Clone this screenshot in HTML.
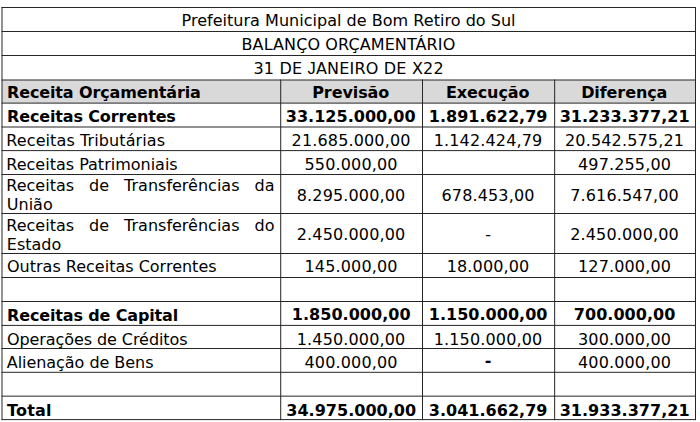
<!DOCTYPE html>
<html lang="pt-BR">
<head>
<meta charset="utf-8">
<title>Balanço Orçamentário</title>
<style>
html,body{margin:0;padding:0;background:#fff;}
body{width:700px;height:422px;position:relative;overflow:hidden;
 font-family:"DejaVu Sans","Liberation Sans",sans-serif;font-size:16px;color:#000;}
svg.grid{position:absolute;left:0;top:0;}
.c{position:absolute;white-space:nowrap;line-height:19px;height:19px;}
.ctr{text-align:center;}
.b{font-weight:bold;}
.J{font-family:"Liberation Sans",sans-serif;font-size:16.4px;}
</style>
</head>
<body>

<svg class="grid" width="700" height="422" viewBox="0 0 700 422">
<rect x="2.00" y="80.00" width="693.50" height="23.10" fill="#d9d9d9"/>
<g fill="#262626">
<rect x="1.50" y="7.00" width="694.50" height="1"/>
<rect x="1.50" y="31.00" width="694.50" height="1"/>
<rect x="1.50" y="55.00" width="694.50" height="1"/>
<rect x="1.50" y="79.50" width="694.50" height="1"/>
<rect x="1.50" y="102.60" width="694.50" height="1"/>
<rect x="1.50" y="126.50" width="694.50" height="1"/>
<rect x="1.50" y="150.10" width="694.50" height="1"/>
<rect x="1.50" y="174.00" width="694.50" height="1"/>
<rect x="1.50" y="213.00" width="694.50" height="1"/>
<rect x="1.50" y="253.00" width="694.50" height="1"/>
<rect x="1.50" y="277.00" width="694.50" height="1"/>
<rect x="1.50" y="301.00" width="694.50" height="1"/>
<rect x="1.50" y="324.90" width="694.50" height="1"/>
<rect x="1.50" y="348.00" width="694.50" height="1"/>
<rect x="1.50" y="371.80" width="694.50" height="1"/>
<rect x="1.50" y="395.65" width="694.50" height="1"/>
<rect x="1.50" y="419.10" width="694.50" height="1"/>
<rect x="1.50" y="7.00" width="1" height="413.10"/>
<rect x="280.20" y="79.50" width="1" height="340.60"/>
<rect x="422.00" y="79.50" width="1" height="340.60"/>
<rect x="554.15" y="79.50" width="1" height="340.60"/>
<rect x="695.00" y="7.00" width="1" height="413.10"/>
</g>
</svg>
<div class="c ctr" style="left:1.8px;top:11px;width:693.5px;letter-spacing:0.030px">Prefeitura Municipal de Bom Retiro do Sul</div>
<div class="c ctr" style="left:1.7px;top:35px;width:693.5px;letter-spacing:0.100px">BALANÇO ORÇAMENTÁRIO</div>
<div class="c ctr" style="left:1.9px;top:59px;width:693.5px;letter-spacing:0.190px">31 DE <span class="J">J</span>ANEIRO DE X22</div>
<div class="c b" style="left:7.0px;top:83px;letter-spacing:-0.130px">Receita Orçamentária</div>
<div class="c b ctr" style="left:279.8px;top:83px;width:141.8px;letter-spacing:-0.090px">Previsão</div>
<div class="c b ctr" style="left:421.6px;top:83px;width:132.1px;letter-spacing:-0.090px">Execução</div>
<div class="c b ctr" style="left:553.8px;top:83px;width:140.9px;letter-spacing:-0.090px">Diferença</div>
<div class="c b" style="left:7.1px;top:107px;letter-spacing:-0.150px">Receitas Correntes</div>
<div class="c b ctr" style="left:279.8px;top:107px;width:141.8px;letter-spacing:0.030px">33.125.000,00</div>
<div class="c b ctr" style="left:422.1px;top:107px;width:132.1px;letter-spacing:0.030px">1.891.622,79</div>
<div class="c b ctr" style="left:554.2px;top:107px;width:140.9px;letter-spacing:0.030px">31.233.377,21</div>
<div class="c" style="left:6.3px;top:131px;letter-spacing:0.100px">Receitas Tributárias</div>
<div class="c ctr" style="left:280.2px;top:131px;width:141.8px;letter-spacing:0.150px">21.685.000,00</div>
<div class="c ctr" style="left:422.0px;top:131px;width:132.1px;letter-spacing:0.150px">1.142.424,79</div>
<div class="c ctr" style="left:554.1px;top:131px;width:140.9px;letter-spacing:0.150px">20.542.575,21</div>
<div class="c" style="left:6.3px;top:155px">Receitas Patrimoniais</div>
<div class="c ctr" style="left:280.2px;top:155px;width:141.8px;letter-spacing:0.150px">550.000,00</div>
<div class="c ctr" style="left:554.1px;top:155px;width:140.9px;letter-spacing:0.150px">497.255,00</div>
<div class="c" style="left:6.3px;top:176px;word-spacing:9.950px">Receitas de Transferências da</div>
<div class="c" style="left:6.8px;top:195px">União</div>
<div class="c ctr" style="left:280.2px;top:186px;width:141.8px;letter-spacing:0.150px">8.295.000,00</div>
<div class="c ctr" style="left:422.0px;top:186px;width:132.1px;letter-spacing:0.150px">678.453,00</div>
<div class="c ctr" style="left:554.1px;top:186px;width:140.9px;letter-spacing:0.150px">7.616.547,00</div>
<div class="c" style="left:6.3px;top:216px;word-spacing:9.950px">Receitas de Transferências do</div>
<div class="c" style="left:6.8px;top:235px">Estado</div>
<div class="c ctr" style="left:280.2px;top:225px;width:141.8px;letter-spacing:0.150px">2.450.000,00</div>
<div class="c ctr" style="left:422.0px;top:225px;width:132.1px">-</div>
<div class="c ctr" style="left:554.1px;top:225px;width:140.9px;letter-spacing:0.150px">2.450.000,00</div>
<div class="c" style="left:7.0px;top:257px">Outras Receitas Correntes</div>
<div class="c ctr" style="left:280.2px;top:257px;width:141.8px;letter-spacing:0.150px">145.000,00</div>
<div class="c ctr" style="left:422.0px;top:257px;width:132.1px;letter-spacing:0.150px">18.000,00</div>
<div class="c ctr" style="left:554.1px;top:257px;width:140.9px;letter-spacing:0.150px">127.000,00</div>
<div class="c b" style="left:7.1px;top:306px;letter-spacing:-0.150px">Receitas de Capital</div>
<div class="c b ctr" style="left:280.3px;top:305px;width:141.8px;letter-spacing:0.030px">1.850.000,00</div>
<div class="c b ctr" style="left:422.1px;top:305px;width:132.1px;letter-spacing:0.030px">1.150.000,00</div>
<div class="c b ctr" style="left:554.2px;top:305px;width:140.9px;letter-spacing:0.030px">700.000,00</div>
<div class="c" style="left:7.0px;top:330px;letter-spacing:-0.080px">Operações de Créditos</div>
<div class="c ctr" style="left:280.2px;top:330px;width:141.8px;letter-spacing:0.150px">1.450.000,00</div>
<div class="c ctr" style="left:422.0px;top:330px;width:132.1px;letter-spacing:0.150px">1.150.000,00</div>
<div class="c ctr" style="left:554.1px;top:330px;width:140.9px;letter-spacing:0.150px">300.000,00</div>
<div class="c" style="left:6.8px;top:353px;letter-spacing:-0.050px">Alienação de Bens</div>
<div class="c ctr" style="left:280.2px;top:353px;width:141.8px;letter-spacing:0.150px">400.000,00</div>
<div class="c ctr" style="left:422.0px;top:351px;width:132.1px"><b>-</b></div>
<div class="c ctr" style="left:554.1px;top:353px;width:140.9px;letter-spacing:0.150px">400.000,00</div>
<div class="c b" style="left:7.1px;top:401px;letter-spacing:0.150px">Total</div>
<div class="c b ctr" style="left:280.3px;top:401px;width:141.8px;letter-spacing:0.030px">34.975.000,00</div>
<div class="c b ctr" style="left:422.1px;top:401px;width:132.1px;letter-spacing:0.030px">3.041.662,79</div>
<div class="c b ctr" style="left:554.2px;top:401px;width:140.9px;letter-spacing:0.030px">31.933.377,21</div>
</body>
</html>
